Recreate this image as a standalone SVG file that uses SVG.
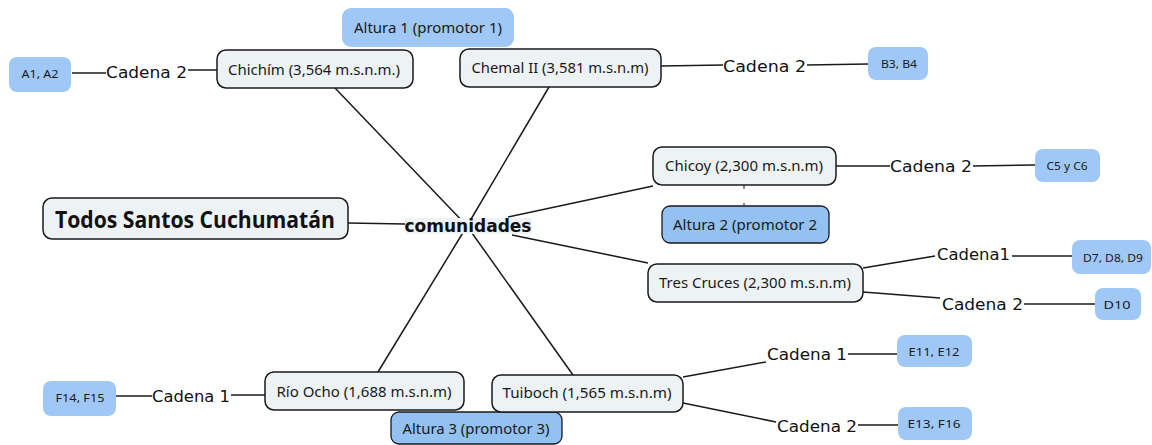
<svg xmlns="http://www.w3.org/2000/svg" width="1152" height="445" viewBox="0 0 1152 445">
<style>
.node{fill:#edf2f5;stroke:#1a1a1a;stroke-width:1.5}
.leaf{fill:#9fc8f6;stroke:none}
.alt{fill:#93c1f2;stroke:#1a1a1a;stroke-width:1.3}
.nt{font-family:"Noto Sans","Open Sans",sans-serif;font-size:14px;fill:#1a1a1a;text-anchor:middle}
.lt{font-family:"Noto Sans","Open Sans",sans-serif;font-size:11px;fill:#1a1a1a;text-anchor:middle}
.ct{font-family:"DejaVu Sans",Verdana,sans-serif;font-size:16.5px;fill:#111}
.conn line,.conn polyline{stroke:#1a1a1a;stroke-width:1.5;fill:none}
</style>
<rect width="1152" height="445" fill="#ffffff"/>
<g class="conn" id="connectors">
<line x1="348" y1="223" x2="405" y2="224"/>
<line x1="335" y1="88" x2="467" y2="226"/>
<line x1="549" y1="87" x2="467" y2="226"/>
<line x1="378" y1="372" x2="467" y2="226"/>
<line x1="573" y1="375" x2="467" y2="226"/>
<line x1="508" y1="217" x2="653" y2="186"/>
<line x1="512" y1="235" x2="648" y2="263"/>
<line x1="72" y1="73" x2="106" y2="73"/>
<line x1="188" y1="70" x2="217" y2="70"/>
<line x1="661" y1="66" x2="723" y2="65"/>
<line x1="807" y1="65" x2="868" y2="64"/>
<line x1="836" y1="166" x2="890" y2="166"/>
<line x1="973" y1="166" x2="1035" y2="165"/>
<line x1="863" y1="268" x2="935" y2="256"/>
<line x1="1012" y1="256" x2="1072" y2="256"/>
<line x1="863" y1="292" x2="940" y2="298"/>
<line x1="1024" y1="304" x2="1095" y2="304"/>
<line x1="683" y1="377" x2="766" y2="362"/>
<line x1="848" y1="354" x2="897" y2="354"/>
<line x1="683" y1="403" x2="776" y2="422"/>
<line x1="858" y1="425" x2="898" y2="425"/>
<line x1="116" y1="396" x2="152" y2="396"/>
<line x1="231" y1="395" x2="265" y2="395"/>
<line x1="744" y1="185" x2="744" y2="189" style="stroke-width:1"/>
<line x1="744" y1="203" x2="744" y2="206" style="stroke-width:1"/>
</g>
<g id="todos-santos">
<rect class="node" x="43" y="198" width="305" height="41" rx="9"/>
<text x="195" y="228" font-family="'Open Sans','Noto Sans',sans-serif" font-weight="bold" font-size="23" fill="#111" text-anchor="middle" textLength="280" lengthAdjust="spacingAndGlyphs">Todos Santos Cuchumatán</text>
</g>
<g id="comunidades">
<rect x="405" y="218" width="127" height="16" fill="#eef3f6"/>
<text x="468" y="232" font-family="'DejaVu Sans',Verdana,sans-serif" font-weight="bold" font-size="17" fill="#111" text-anchor="middle" textLength="127" lengthAdjust="spacingAndGlyphs">comunidades</text>
</g>
<g id="altura1">
<rect class="leaf" x="342" y="8" width="172" height="39" rx="9" fill="#a2caf5"/>
<text class="nt" x="428" y="33" textLength="148" lengthAdjust="spacingAndGlyphs">Altura 1 (promotor 1)</text>
</g>
<g id="chichim">
<rect class="node" x="217" y="50" width="196" height="38" rx="9"/>
<text class="nt" x="314" y="75" textLength="172" lengthAdjust="spacingAndGlyphs">Chichím (3,564 m.s.n.m.)</text>
</g>
<g id="chichim-cadena2">
<text class="ct" x="106" y="78" textLength="81" lengthAdjust="spacingAndGlyphs">Cadena 2</text>
</g>
<g id="a1a2">
<rect class="leaf" x="9" y="57" width="62" height="35" rx="8"/>
<text class="lt" x="40" y="78" textLength="37" lengthAdjust="spacingAndGlyphs">A1, A2</text>
</g>
<g id="chemal">
<rect class="node" x="460" y="49" width="201" height="38" rx="9"/>
<text class="nt" x="560" y="73" textLength="177" lengthAdjust="spacingAndGlyphs">Chemal II (3,581 m.s.n.m)</text>
</g>
<g id="chemal-cadena2">
<text class="ct" x="723" y="72" textLength="83" lengthAdjust="spacingAndGlyphs">Cadena 2</text>
</g>
<g id="b3b4">
<rect class="leaf" x="868" y="47" width="60" height="33" rx="8"/>
<text class="lt" x="899" y="68" textLength="36" lengthAdjust="spacingAndGlyphs">B3, B4</text>
</g>
<g id="chicoy">
<rect class="node" x="653" y="147" width="183" height="38" rx="9"/>
<text class="nt" x="744" y="171" textLength="158" lengthAdjust="spacingAndGlyphs">Chicoy (2,300 m.s.n.m)</text>
</g>
<g id="chicoy-cadena2">
<text class="ct" x="890" y="172" textLength="82" lengthAdjust="spacingAndGlyphs">Cadena 2</text>
</g>
<g id="c5c6">
<rect class="leaf" x="1035" y="149" width="65" height="33" rx="8"/>
<text class="lt" x="1067" y="170" textLength="41" lengthAdjust="spacingAndGlyphs">C5 y C6</text>
</g>
<g id="altura2">
<rect class="alt" x="662" y="206" width="167" height="37" rx="8"/>
<text class="nt" x="745" y="230" textLength="144" lengthAdjust="spacingAndGlyphs">Altura 2 (promotor 2</text>
</g>
<g id="tres-cruces">
<rect class="node" x="648" y="264" width="215" height="38" rx="9"/>
<text class="nt" x="755" y="288" textLength="192" lengthAdjust="spacingAndGlyphs">Tres Cruces (2,300 m.s.n.m)</text>
</g>
<g id="tres-cadena1">
<text class="ct" x="937" y="260" textLength="73" lengthAdjust="spacingAndGlyphs">Cadena1</text>
</g>
<g id="d7d8d9">
<rect class="leaf" x="1072" y="240" width="79" height="34" rx="8"/>
<text class="lt" x="1113" y="262" textLength="60" lengthAdjust="spacingAndGlyphs">D7, D8, D9</text>
</g>
<g id="tres-cadena2">
<text class="ct" x="942" y="310" textLength="81" lengthAdjust="spacingAndGlyphs">Cadena 2</text>
</g>
<g id="d10">
<rect class="leaf" x="1095" y="288" width="46" height="32" rx="8"/>
<text class="lt" x="1117" y="309" textLength="27" lengthAdjust="spacingAndGlyphs">D10</text>
</g>
<g id="altura3">
<rect class="alt" x="391" y="412" width="171" height="32" rx="8"/>
<text class="nt" x="476" y="434" textLength="147" lengthAdjust="spacingAndGlyphs">Altura 3 (promotor 3)</text>
</g>
<g id="rio-ocho">
<rect class="node" x="265" y="372" width="199" height="38" rx="9"/>
<text class="nt" x="364" y="397" textLength="175" lengthAdjust="spacingAndGlyphs">Río Ocho (1,688 m.s.n.m)</text>
</g>
<g id="rio-cadena1">
<text class="ct" x="152" y="402" textLength="78" lengthAdjust="spacingAndGlyphs">Cadena 1</text>
</g>
<g id="f14f15">
<rect class="leaf" x="43" y="381" width="73" height="35" rx="8"/>
<text class="lt" x="80" y="402" textLength="49" lengthAdjust="spacingAndGlyphs">F14, F15</text>
</g>
<g id="tuiboch">
<rect class="node" x="492" y="375" width="191" height="37" rx="9"/>
<text class="nt" x="587" y="398" textLength="169" lengthAdjust="spacingAndGlyphs">Tuiboch (1,565 m.s.n.m)</text>
</g>
<g id="tuiboch-cadena1">
<text class="ct" x="767" y="360" textLength="80" lengthAdjust="spacingAndGlyphs">Cadena 1</text>
</g>
<g id="e11e12">
<rect class="leaf" x="897" y="335" width="75" height="32" rx="8"/>
<text class="lt" x="934" y="356" textLength="51" lengthAdjust="spacingAndGlyphs">E11, E12</text>
</g>
<g id="tuiboch-cadena2">
<text class="ct" x="777" y="432" textLength="80" lengthAdjust="spacingAndGlyphs">Cadena 2</text>
</g>
<g id="e13f16">
<rect class="leaf" x="898" y="407" width="74" height="33" rx="8"/>
<text class="lt" x="934" y="428" textLength="53" lengthAdjust="spacingAndGlyphs">E13, F16</text>
</g>
</svg>
